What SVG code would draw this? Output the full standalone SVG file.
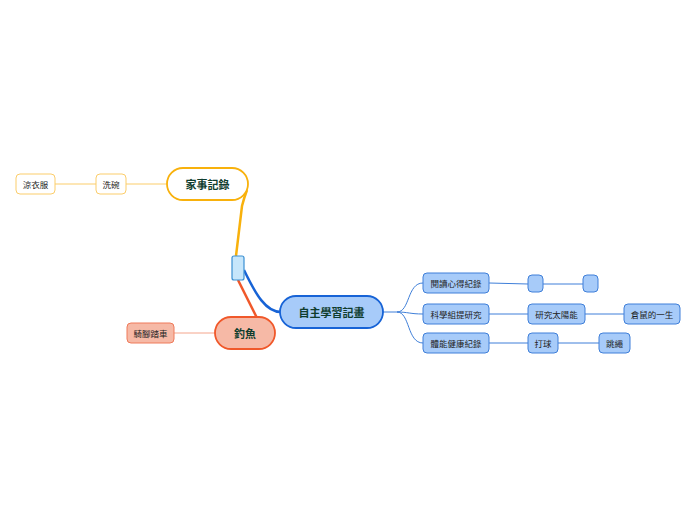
<svg xmlns="http://www.w3.org/2000/svg" width="696" height="520" viewBox="0 0 696 520">
<style>
text{font-family:"Noto Sans CJK TC","Noto Sans CJK SC",sans-serif;text-anchor:middle;dominant-baseline:central}
.main{font-size:11px;font-weight:bold;fill:#0f3d2e}
.sub{font-size:8.5px;fill:#222}
.blue{fill:#a7cbf9;stroke:#3f7fd9;stroke-width:1}
.yel{fill:#fff;stroke:#fbcd6b;stroke-width:1}
.red{fill:#f6b9a6;stroke:#ef7a5a;stroke-width:1}
.c{fill:none}
</style>
<rect width="696" height="520" fill="#fff"/>
<g id="connectors">
<path class="c" d="M236,256 L242,206 Q244,198 247,190" stroke="#f8b10c" stroke-width="2.5"/>
<path class="c" d="M238,280 L257,318" stroke="#f0582a" stroke-width="2.5"/>
<path class="c" d="M244,270 C256,295 266,312 281,312" stroke="#1763d6" stroke-width="2.5"/>
<path class="c" d="M383,312 L397,312 C410,312 407,283 423,283 M397,312 C408,312 410,314 423,314 M397,312 C410,312 407,343 423,343" stroke="#3f7fd9" stroke-width="1"/>
<path class="c" d="M489,283 L528,284 M543,284 L583,284 M489,314 L528,314 M585,314 L624,314 M489,343 L528,343 M558,343 L599,343" stroke="#3f7fd9" stroke-width="1"/>
<path class="c" d="M126,184 L167,184 M55,184 L96,184" stroke="#fbcd6b" stroke-width="1"/>
<path class="c" d="M174,333 L215,333" stroke="#f4a58c" stroke-width="1"/>
</g>
<g id="root"><rect x="232" y="256" width="12" height="24" rx="2" fill="#c6e6fb" stroke="#3a8fd2" stroke-width="1.2"/></g>
<g id="n-study"><rect x="280" y="296" width="103" height="32" rx="16" fill="#a7cbf9" stroke="#1763d6" stroke-width="1.8"/><text class="main" x="331.5" y="312">自主學習記畫</text></g>
<g id="n-fish"><rect x="215" y="317" width="60" height="32" rx="16" fill="#f6b9a6" stroke="#f0582a" stroke-width="1.8"/><text class="main" x="245" y="333">釣魚</text></g>
<g id="n-bike"><rect class="red" x="127" y="323" width="47" height="20" rx="4"/><text class="sub" x="150.5" y="333">騎腳踏車</text></g>
<g id="n-house"><rect x="167" y="168" width="81" height="32" rx="16" fill="#fff" stroke="#f8b10c" stroke-width="1.8"/><text class="main" x="207.5" y="184">家事記錄</text></g>
<g id="n-dish"><rect class="yel" x="96" y="174" width="30" height="20" rx="4"/><text class="sub" x="111" y="184">洗碗</text></g>
<g id="n-clothes"><rect class="yel" x="16" y="174" width="39" height="20" rx="4"/><text class="sub" x="35.5" y="184">涼衣服</text></g>
<g id="n-read"><rect class="blue" x="423" y="273" width="66" height="20" rx="4"/><text class="sub" x="456" y="283">閱讀心得紀錄</text></g>
<g id="n-sci"><rect class="blue" x="423" y="304" width="66" height="20" rx="4"/><text class="sub" x="456" y="314">科學組提研究</text></g>
<g id="n-pe"><rect class="blue" x="423" y="333" width="66" height="20" rx="4"/><text class="sub" x="456" y="343">體能健康紀錄</text></g>
<g id="n-empty1"><rect class="blue" x="528" y="275" width="15" height="17" rx="4"/></g>
<g id="n-empty2"><rect class="blue" x="583" y="275" width="15" height="17" rx="4"/></g>
<g id="n-solar"><rect class="blue" x="528" y="304" width="57" height="20" rx="4"/><text class="sub" x="556.5" y="314">研究太陽能</text></g>
<g id="n-hamster"><rect class="blue" x="624" y="304" width="56" height="20" rx="4"/><text class="sub" x="652" y="314">倉鼠的一生</text></g>
<g id="n-ball"><rect class="blue" x="528" y="333" width="30" height="20" rx="4"/><text class="sub" x="543" y="343">打球</text></g>
<g id="n-rope"><rect class="blue" x="599" y="333" width="31" height="20" rx="4"/><text class="sub" x="614.5" y="343">跳繩</text></g>
</svg>
